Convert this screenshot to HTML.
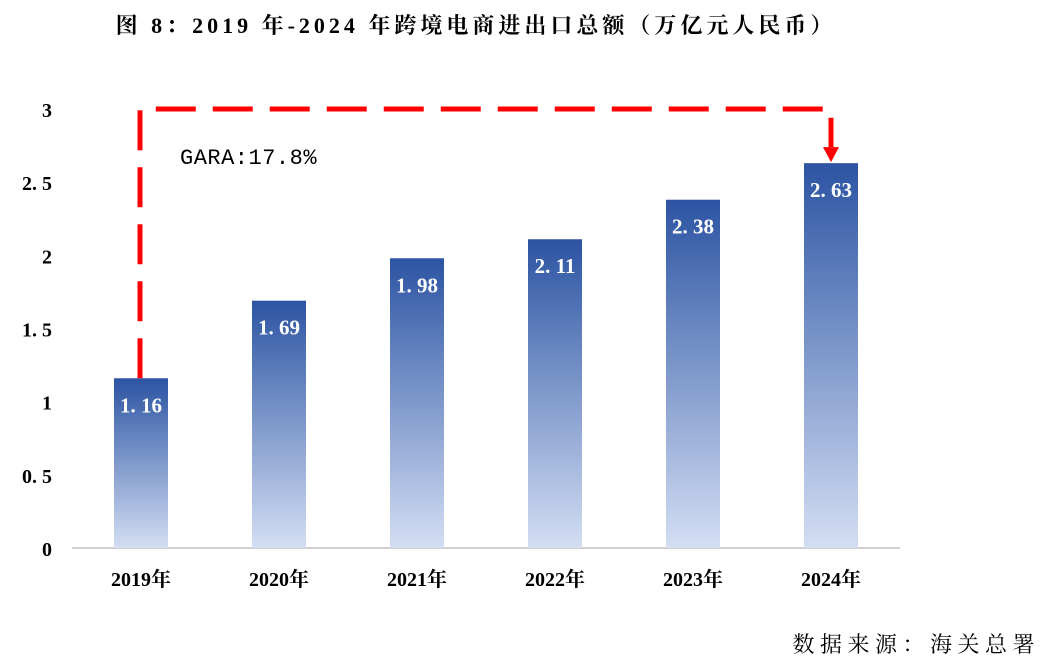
<!DOCTYPE html>
<html><head><meta charset="utf-8"><style>
body{margin:0;background:#fff;width:1048px;height:664px;overflow:hidden;font-family:"Liberation Serif","Noto Serif CJK SC",serif;}
</style></head><body>
<svg width="1048" height="664" xmlns="http://www.w3.org/2000/svg">
<defs><linearGradient id="g" x1="0" y1="0" x2="0" y2="1">
<stop offset="0" stop-color="#2c54a3"/><stop offset="1" stop-color="#d3def3"/></linearGradient></defs>
<text x="476" y="33" text-anchor="middle" font-size="22" font-weight="bold" letter-spacing="4" fill="#000" font-family="Liberation Serif,Noto Serif CJK SC,serif">图 8：2019 年-2024 年跨境电商进出口总额（万亿元人民币）</text>
<g id="yaxis"></g>
<line x1="72" y1="548" x2="900" y2="548" stroke="#bfbfbf" stroke-width="1.5"/>
<g id="bars"></g>
<g id="xaxis"></g>
<path id="cagr" fill="none" stroke="#ff0000" stroke-width="5" stroke-dasharray="40,17"/>
<polygon id="arrow" fill="#ff0000"/>
<text x="180" y="164" font-size="22" letter-spacing="0.5" font-family="Liberation Mono,monospace" fill="#000">GARA:17.8%</text>
<text x="1040" y="652" text-anchor="end" font-size="22" letter-spacing="5.5" fill="#000" font-family="Liberation Serif,Noto Serif CJK SC,serif">数据来源：海关总署</text>
</svg>
<script>
const categories=["2019年","2020年","2021年","2022年","2023年","2024年"];
const values=[1.16,1.69,1.98,2.11,2.38,2.63];
const yTicks=[0,0.5,1,1.5,2,2.5,3];
const yTickLabels=["0","0. 5","1","1. 5","2","2. 5","3"];
const NS="http://www.w3.org/2000/svg";
const x0=72,x1=900,y0=548,yTop=109,yMax=3;
const y=v=>y0-(v/yMax)*(y0-yTop);
const band=(x1-x0)/categories.length;
const xc=i=>x0+band*(i+0.5);
const bw=54;
function mk(t,a,p){const e=document.createElementNS(NS,t);for(const k in a)e.setAttribute(k,a[k]);p.appendChild(e);return e;}
const ya=document.getElementById('yaxis');
yTicks.forEach((v,i)=>{const t=mk('text',{x:52,y:y(v)+8,'text-anchor':'end','font-size':20,'font-weight':'bold',fill:'#000'},ya);


t.textContent=yTickLabels[i];});
const bars=document.getElementById('bars'),xa=document.getElementById('xaxis');
values.forEach((v,i)=>{
const r=mk('rect',{x:xc(i)-bw/2,y:y(v),width:bw,height:y0-y(v),fill:'url(#g)'},bars);


const t=mk('text',{x:xc(i),y:y(v)+34,'text-anchor':'middle','font-size':21,'font-weight':'bold',fill:'#fff'},bars);


t.textContent=v.toFixed(2).replace('.','. ');
const c=mk('text',{x:xc(i),y:586,'text-anchor':'middle','font-size':20,'font-weight':'bold',fill:'#000'},xa);


c.textContent=categories[i];
});
const nLast=values.length-1,topY=109;
document.getElementById('cagr').setAttribute('d',`M${xc(0)-1},${y(values[0])} V${topY} H${xc(nLast)} V${y(values[nLast])-16}`);
const ax=xc(nLast),ay=y(values[nLast]);
document.getElementById('arrow').setAttribute('points',`${ax-8},${ay-16} ${ax+8},${ay-16} ${ax},${ay-1}`);
</script>
</body></html>
